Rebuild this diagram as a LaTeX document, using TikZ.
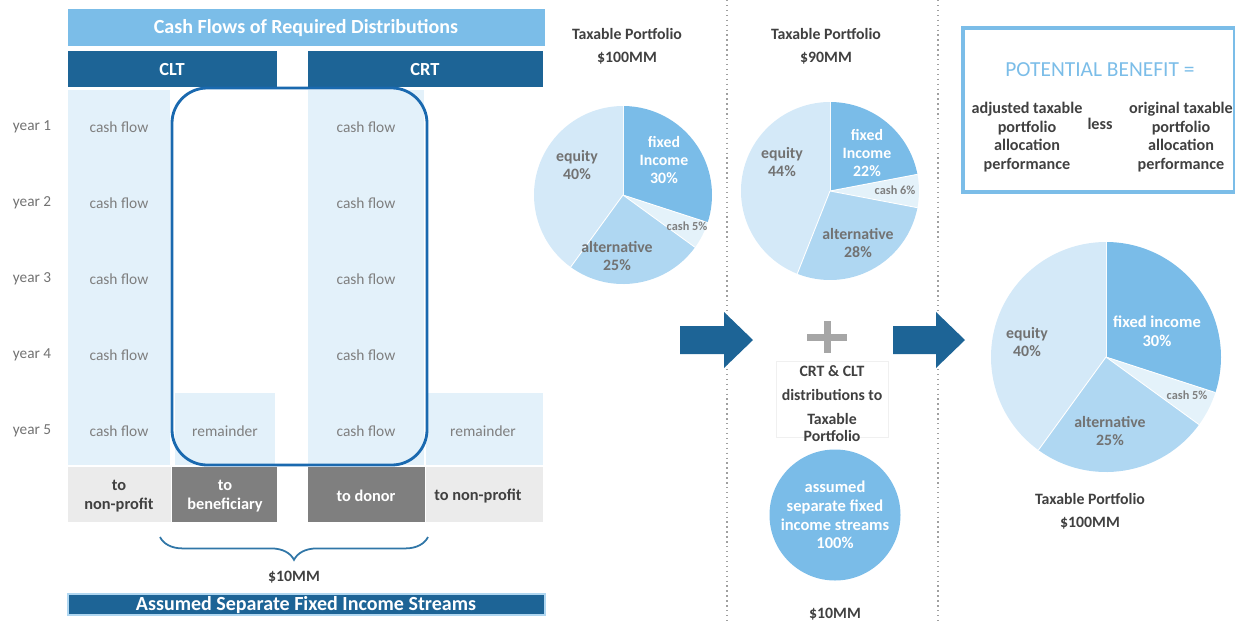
\documentclass[tikz,border=0pt]{standalone}
\usepackage{fontspec}
\setmainfont{Carlito}
\usetikzlibrary{decorations.pathreplacing}
\definecolor{titleblue}{HTML}{7BBDE8}
\definecolor{darkblue}{HTML}{1D6496}
\definecolor{cellblue}{HTML}{E3F1FA}
\definecolor{lightgray}{HTML}{EBEBEB}
\definecolor{midgray}{HTML}{7F7F7F}
\definecolor{outlineblue}{HTML}{1A69AF}
\definecolor{txtgray}{HTML}{7F7F7F}
\definecolor{darktxt}{HTML}{404040}
\definecolor{piefixed}{HTML}{7ABCE8}
\definecolor{piecash}{HTML}{E4F2FA}
\definecolor{piealt}{HTML}{AFD7F2}
\definecolor{pieeq}{HTML}{D4E9F8}
\definecolor{plusgray}{HTML}{A6A6A6}
\definecolor{dotgray}{HTML}{A0A0A0}
\tikzset{
  x=0.02cm, y=-0.02cm,
  bar/.style={inner sep=0pt, font=\fontsize{10.5}{12}\selectfont\bfseries, text=white},
  lbl/.style={font=\fontsize{8.8}{10}\selectfont, text=txtgray, inner sep=0pt},
  yearlbl/.style={font=\fontsize{8.7}{10}\selectfont, text=txtgray!90!black, inner sep=0pt},
  boldlbl/.style={font=\fontsize{9}{10}\selectfont\bfseries, text=darktxt, align=center, inner sep=0pt},
  celllbl/.style={font=\fontsize{9.3}{11}\selectfont\bfseries, text=darktxt, align=center, inner sep=0pt},
  pielbl/.style={font=\fontsize{9}{10.5}\selectfont\bfseries, text=txtgray!90!black, align=center, inner sep=0pt},
  pielblw/.style={font=\fontsize{9}{10.5}\selectfont\bfseries, text=white, align=center, inner sep=0pt},
  cashlbl/.style={font=\fontsize{7}{8}\selectfont\bfseries, text=txtgray, inner sep=0pt},
  benlbl/.style={font=\fontsize{9.2}{10.6}\selectfont\bfseries, text=darktxt, align=center, inner sep=0pt},
  slice/.style={draw=white, line width=0.5pt},
  blockarrow/.style={fill=darkblue},
  dotline/.style={draw=dotgray, dotted, line width=0.8pt},
}
\newcommand{\pieslice}[5]{% center, radius, start, end, color
  \fill[#5] (#1) -- ++(#3:#2) arc[start angle=#3, end angle=#4, radius=#2] -- cycle;
  \draw[slice] (#1) -- ++(#3:#2);
}
\begin{document}
\begin{tikzpicture}
\useasboundingbox (0,0) rectangle (1235,623);

% ---------- left table ----------
\fill[titleblue] (68,9) rectangle (545,46);
\node[bar, font=\fontsize{11.4}{12}\selectfont\bfseries] (title) at (306,28) {Cash Flows of Required Distributions};
\fill[darkblue] (68,51) rectangle (277,87);
\node[bar] (clt) at (172,70) {CLT};
\fill[darkblue] (308,51) rectangle (543,87);
\node[bar] (crt) at (425,70) {CRT};

\fill[cellblue] (68,90) rectangle (170,465);
\fill[cellblue] (175,393) rectangle (275,465);
\fill[cellblue] (308,90) rectangle (424,465);
\fill[cellblue] (426,393) rectangle (543,465);

\fill[lightgray] (68,467) rectangle (171,522);
\fill[midgray] (172,467) rectangle (277,522);
\fill[midgray] (308,467) rectangle (425,522);
\fill[lightgray] (426,467) rectangle (543,522);

\draw[outlineblue, line width=1.6pt, rounded corners=20pt] (172,88) rectangle (427,465);

\foreach \i/\yy in {1/127,2/203,3/279,4/355,5/431}{
  \node[yearlbl] (year\i) at (32,\yy) {year \i};
  \node[lbl] (cfa\i) at (119,\yy) {cash flow};
  \node[lbl] (cfb\i) at (366,\yy) {cash flow};
}
\node[lbl] (remA) at (225,431) {remainder};
\node[lbl] (remB) at (483,431) {remainder};

\node[celllbl] (np1) at (119,496) {to\\non-profit};
\node[celllbl, text=white] (ben) at (225,496) {to\\beneficiary};
\node[celllbl, text=white] (donor) at (366,496) {to donor};
\node[celllbl] (np2) at (478,496) {to non-profit};

\coordinate (brL) at (160,537);
\coordinate (brR) at (428,537);
\draw[darkblue!80!titleblue, line width=1pt, decorate, decoration={brace, mirror, amplitude=13pt}] (brL) -- (brR);
\node[boldlbl] (tenA) at (294,577) {\$10MM};

\fill[darkblue] (68,594) rectangle (545,615);
\draw[titleblue!60, line width=0.8pt] (68,594) rectangle (545,615);
\node[bar, font=\fontsize{11.4}{12}\selectfont\bfseries] (streams) at (306,605) {Assumed Separate Fixed Income Streams};

% ---------- dotted separators ----------
\draw[dotline] (727,0) -- (727,623);
\draw[dotline] (938,0) -- (938,623);

% ---------- pie 1 ----------
\coordinate (p1) at (623,195);
\pieslice{p1}{89}{-90}{18}{piefixed}
\pieslice{p1}{89}{18}{36}{piecash}
\pieslice{p1}{89}{36}{126}{piealt}
\pieslice{p1}{89}{126}{270}{pieeq}
\node[boldlbl] (tp1) at (627,34) {Taxable Portfolio};
\node[boldlbl] (m1) at (627,58) {\$100MM};
\node[pielblw] (fi1) at (664,160) {fixed\\Income\\30\%};
\node[cashlbl] (ca1) at (687,226) {cash 5\%};
\node[pielbl] (al1) at (617,256) {alternative\\25\%};
\node[pielbl] (eq1) at (577,165) {equity\\40\%};

% ---------- pie 2 ----------
\coordinate (p2) at (830,191);
\pieslice{p2}{89}{-90}{-10.8}{piefixed}
\pieslice{p2}{89}{-10.8}{10.8}{piecash}
\pieslice{p2}{89}{10.8}{111.6}{piealt}
\pieslice{p2}{89}{111.6}{270}{pieeq}
\node[boldlbl] (tp2) at (826,34) {Taxable Portfolio};
\node[boldlbl] (m2) at (826,58) {\$90MM};
\node[pielblw] (fi2) at (867,153) {fixed\\Income\\22\%};
\node[cashlbl] (ca2) at (895,190) {cash 6\%};
\node[pielbl] (al2) at (858,243) {alternative\\28\%};
\node[pielbl] (eq2) at (782,162) {equity\\44\%};

% ---------- arrows ----------
\fill[blockarrow] (680,326) -- (724,326) -- (724,312) -- (753,340) -- (724,368) -- (724,354) -- (680,354) -- cycle;
\fill[blockarrow] (893,326) -- (936,326) -- (936,312) -- (965,340) -- (936,368) -- (936,354) -- (893,354) -- cycle;

% ---------- plus and middle text ----------
\fill[plusgray] (807,333.5) rectangle (847,340.5);
\fill[plusgray] (823.5,321) rectangle (830.5,353);
\draw[black!6, line width=0.4pt] (776,361) rectangle (888,437);
\node[boldlbl, font=\fontsize{9}{13.5}\selectfont\bfseries] (dist) at (832,404) {CRT \& CLT\\distributions to\\Taxable\\[-3.5pt]Portfolio};

\node[circle, fill=piefixed, minimum size=131*0.02cm, inner sep=0pt] (circ) at (835,515) {};
\node[pielblw, font=\fontsize{9.4}{10.6}\selectfont\bfseries] (circtxt) at (circ) {assumed\\separate fixed\\income streams\\100\%};
\node[boldlbl] (ten2) at (835,614) {\$10MM};

% ---------- potential benefit ----------
\draw[titleblue, line width=1.8pt] (963,28) rectangle (1235,192);
\node[font=\fontsize{12.2}{13}\selectfont, text=titleblue, inner sep=0pt] (pb) at (1100,70) {POTENTIAL BENEFIT =};
\node[benlbl] (adj) at (1027,137) {adjusted taxable\\portfolio\\allocation\\performance};
\node[benlbl] (less) at (1100,124) {less};
\node[benlbl] (orig) at (1181,137) {original taxable\\portfolio\\allocation\\performance};

% ---------- pie 3 ----------
\coordinate (p3) at (1106,357);
\pieslice{p3}{115}{-90}{18}{piefixed}
\pieslice{p3}{115}{18}{36}{piecash}
\pieslice{p3}{115}{36}{126}{piealt}
\pieslice{p3}{115}{126}{270}{pieeq}
\node[pielblw, font=\fontsize{9.4}{10.8}\selectfont\bfseries] (fi3) at (1157,331) {fixed income\\30\%};
\node[cashlbl] (ca3) at (1187,395) {cash 5\%};
\node[pielbl] (al3) at (1110,431) {alternative\\25\%};
\node[pielbl] (eq3) at (1027,342) {equity\\40\%};
\node[boldlbl] (tp3) at (1090,499) {Taxable Portfolio};
\node[boldlbl] (m3) at (1090,523) {\$100MM};
\end{tikzpicture}
\end{document}
